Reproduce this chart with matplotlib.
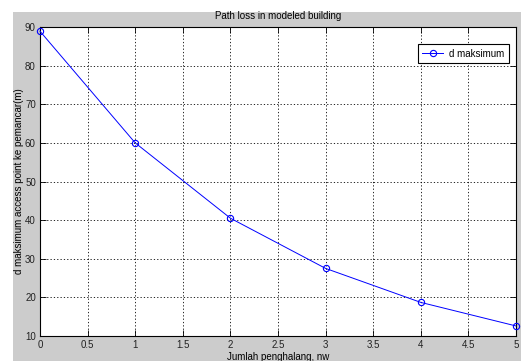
import matplotlib
matplotlib.use('Agg')
import matplotlib.pyplot as plt
from matplotlib.patches import Rectangle

# data
nw = [0, 1, 2, 3, 4, 5]
d_max = [88.9, 60.0, 40.5, 27.5, 18.7, 12.6]
x_ticks = [0, 0.5, 1, 1.5, 2, 2.5, 3, 3.5, 4, 4.5, 5]
y_ticks = [10, 20, 30, 40, 50, 60, 70, 80, 90]

W, H = 521, 361
plt.rcParams['font.family'] = ['Liberation Sans Narrow', 'Liberation Sans', 'DejaVu Sans']

fig = plt.figure(figsize=(W / 100, H / 100), dpi=100, facecolor='white')
# gray matlab figure window area (screenshot is cropped)
fig.patches.append(Rectangle((13 / W, 0), 1, 1 - 12 / H, transform=fig.transFigure,
                             facecolor='#cccccc', edgecolor='none', zorder=-10))

ax = fig.add_axes([40 / W, 25 / H, 476 / W, 309 / H])
ax.set_facecolor('white')
ax.plot(nw, d_max, color='blue', linewidth=0.7, marker='o', markersize=4.5,
        markerfacecolor='none', markeredgecolor='blue', markeredgewidth=0.8,
        label='d maksimum', clip_on=False, zorder=3)

ax.set_xlim(0, 5)
ax.set_ylim(10, 90)
ax.set_xticks(x_ticks)
ax.set_xticklabels(['0', '0.5', '1', '1.5', '2', '2.5', '3', '3.5', '4', '4.5', '5'])
ax.set_yticks(y_ticks)
ax.tick_params(direction='in', length=4, width=0.6, labelsize=7, top=True, right=True,
               pad=3, labelcolor='#222222')
ax.grid(True, color='black', linestyle=(0, (1.5, 2.5)), linewidth=0.6)
for sp in ax.spines.values():
    sp.set_linewidth(0.8)
    sp.set_color('black')

ax.set_title('Path loss in modeled building', fontsize=7, pad=6)
ax.set_xlabel('Jumlah penghalang, nw', fontsize=7, labelpad=1)
ax.set_ylabel('d maksimum access point ke pemancar(m)', fontsize=7, labelpad=1)

leg = ax.legend(loc='upper right', bbox_to_anchor=(0.995, 0.96), fontsize=7,
                fancybox=False, edgecolor='black', framealpha=1,
                handlelength=2.2, handletextpad=0.6, borderpad=0.45)
leg.get_frame().set_linewidth(0.8)

fig.savefig('out.png', dpi=100, facecolor='white')
